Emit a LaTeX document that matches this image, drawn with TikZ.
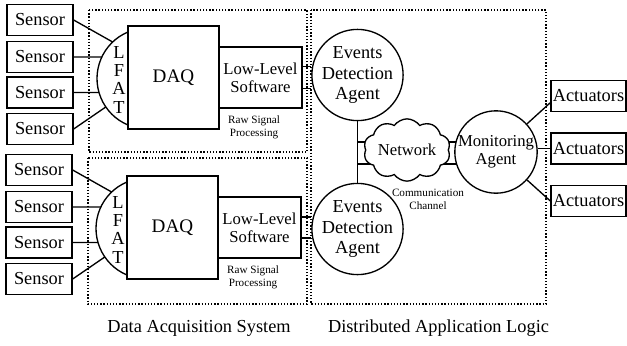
\documentclass[tikz,border=0pt]{standalone}
\usepackage{fontspec}
\setmainfont{Liberation Serif}
\usetikzlibrary{shapes.symbols,backgrounds}

\tikzset{
  wire/.style={line width=0.8pt},
  frame/.style={line width=0.8pt, dash pattern=on 0.8pt off 1.1pt},
  box/.style={draw, line width=0.8pt, fill=white, inner sep=0pt, align=center,
    font=\fontsize{11}{12.3}\selectfont},
  sensor/.style={box, minimum width=39.6pt, minimum height=18.6pt},
  actor/.style={box, minimum width=45pt, minimum height=18.6pt},
  daqbox/.style={box, minimum width=54.6pt, minimum height=61.8pt, font=\fontsize{11.5}{12.3}\selectfont},
  lowbox/.style={box, minimum width=49.8pt, minimum height=36.6pt, font=\fontsize{10}{10.8}\selectfont},
  agent/.style={circle, draw, line width=0.8pt, fill=white, inner sep=0pt, align=center,
    minimum size=51.6pt, font=\fontsize{11}{12.3}\selectfont},
  note/.style={inner sep=0pt, align=center, font=\fontsize{6.7}{7.8}\selectfont},
  letters/.style={inner sep=0pt, align=center, font=\fontsize{11}{11}\selectfont},
  caption/.style={inner sep=0pt, font=\fontsize{11}{13}\selectfont},
  netcloud/.style={cloud, cloud puffs=10, cloud puff arc=110, aspect=1.6, draw, line width=0.8pt,
    fill=white, inner sep=0pt, minimum width=48pt, minimum height=33pt, font=\fontsize{10}{12}\selectfont},
}

\begin{document}
\begin{tikzpicture}[x=0.6pt,y=-0.6pt]
\useasboundingbox (0,0) rectangle (627,345);

% dotted frames
\draw[frame] (89,10) rectangle (307,152);
\draw[frame] (88,158) rectangle (307,304);
\draw[frame] (311,10) rectangle (546,304);

% upper acquisition chain
\node[sensor] (s1) at (40,20) {Sensor};
\node[sensor] (s2) at (40,57) {Sensor};
\node[sensor] (s3) at (40,92.5) {Sensor};
\node[sensor] (s4) at (40,129) {Sensor};
\node[daqbox] (daq1) at (173.5,77.5) {DAQ};
\node[lowbox] (low1) at (260.5,77.5) {Low-Level\\Software};
\node[note] (raw1) at (254,127) {Raw Signal\\Processing};
\coordinate (lf1) at (147.4,78.5);
\draw[wire] (128,32) arc[start angle=247.35, end angle=112.65, radius=50.4];
\node[letters] (lfat1) at (119,79.5) {L\\F\\A\\T};
\draw[wire] (s1.east) -- ([shift={(226.4:50.4)}]lf1);
\draw[wire] (s2.east) -- ([shift={(205.2:50.4)}]lf1);
\draw[wire] (s3.east) -- ([shift={(163.9:50.4)}]lf1);
\draw[wire] (s4.east) -- ([shift={(145.6:50.4)}]lf1);

% lower acquisition chain
\begin{scope}[shift={(-1,150)}]
\node[sensor] (s5) at (40,20) {Sensor};
\node[sensor] (s6) at (40,57) {Sensor};
\node[sensor] (s7) at (40,92.5) {Sensor};
\node[sensor] (s8) at (40,129) {Sensor};
\node[daqbox] (daq2) at (173.5,77.5) {DAQ};
\node[lowbox] (low2) at (260.5,77.5) {Low-Level\\Software};
\node[note] (raw2) at (254,127) {Raw Signal\\Processing};
\coordinate (lf2) at (147.4,78.5);
\draw[wire] (128,32) arc[start angle=247.35, end angle=112.65, radius=50.4];
\node[letters] (lfat2) at (119,79.5) {L\\F\\A\\T};
\draw[wire] (s5.east) -- ([shift={(226.4:50.4)}]lf2);
\draw[wire] (s6.east) -- ([shift={(205.2:50.4)}]lf2);
\draw[wire] (s7.east) -- ([shift={(163.9:50.4)}]lf2);
\draw[wire] (s8.east) -- ([shift={(145.6:50.4)}]lf2);
\end{scope}

% application logic
\node[agent] (ev1) at (357.5,75) {Events\\Detection\\Agent};
\node[agent] (ev2) at (357.5,229) {Events\\Detection\\Agent};
\node[netcloud] (net) at (407,150) {Network};
\node[agent, minimum size=49.2pt, font=\fontsize{10}{10.8}\selectfont] (mon) at (496,152) {Monitoring\\Agent};
\node[note] (chan) at (428,199.5) {Communication\\Channel};
\coordinate (j1) at (357.5,142);
\coordinate (j2) at (357.5,164);

\draw[wire] ([yshift=6.6pt]low1.east) -- ([yshift=6.6pt]low1.east -| ev1.west);
\draw[wire] ([yshift=-6.6pt]low1.east) -- ([yshift=-6.6pt]low1.east -| ev1.west);
\draw[wire] ([yshift=6.3pt]low2.east) -- ([yshift=6.3pt]low2.east -| ev2.west);
\draw[wire] ([yshift=-6.3pt]low2.east) -- ([yshift=-6.3pt]low2.east -| ev2.west);

\begin{scope}[on background layer]
\draw[wire] (ev1) -- (ev2);
\draw[wire] (j1) -- (j1 -| mon.center);
\draw[wire] (j2) -- (j2 -| mon.center);
\end{scope}

% actuators
\node[actor] (act1) at (588.5,96) {Actuators};
\node[actor] (act2) at (588.5,148.5) {Actuators};
\node[actor] (act3) at (588.5,201) {Actuators};
\draw[wire] (mon) -- ([yshift=-4pt]act1.west);
\draw[wire] (act2.west -| mon.east) -- (act2.west);
\draw[wire] (mon) -- (act3.west);

% captions
\node[caption] (cap1) at (199,328) {Data Acquisition System};
\node[caption] (cap2) at (438.5,328) {Distributed Application Logic};
\end{tikzpicture}
\end{document}
